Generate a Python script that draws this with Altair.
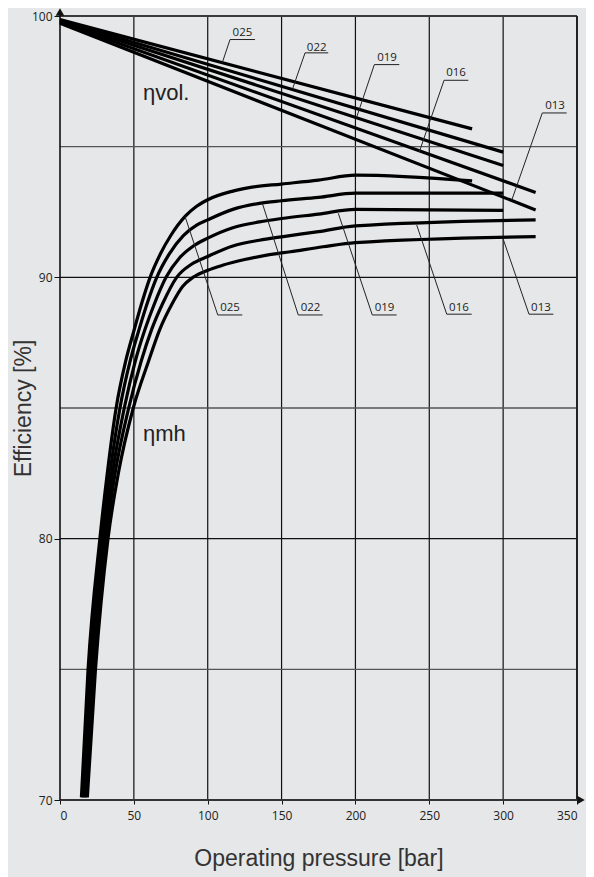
import altair as alt
import pandas as pd

# ---------------- data ----------------
sizes = ["025", "022", "019", "016", "013"]

# volumetric efficiency (straight lines)
vol_p_start = [0, 0, 0, 0, 0]
vol_p_end = [279, 300, 300, 322, 322]
vol_eff_start = [99.86, 99.83, 99.80, 99.76, 99.72]
vol_eff_end = [95.68, 94.79, 94.28, 93.25, 92.58]

# mechanical-hydraulic efficiency curves
mh_p_025 = [14.5, 19, 27, 32, 38, 44.5, 50, 55, 61, 68, 75, 85, 92.5, 100, 117, 130, 150, 175, 200, 279]
mh_e_025 = [70.1, 75, 80, 82.5, 85, 86.8, 87.95, 88.95, 90.0, 90.9, 91.6, 92.35, 92.72, 92.97, 93.3, 93.45, 93.57, 93.72, 93.91, 93.69]
mh_p_022 = [15.5, 20.2, 28.4, 33.8, 40.6, 47.5, 53.5, 59, 65.5, 74, 83.5, 92.5, 100, 117, 135, 150, 175, 200, 300]
mh_e_022 = [70.1, 75, 80, 82.5, 85, 86.8, 88.0, 89.0, 90.0, 90.9, 91.6, 92.0, 92.2, 92.6, 92.83, 92.93, 93.06, 93.22, 93.22]
mh_p_019 = [16.5, 21.4, 29.8, 35.5, 43.5, 51, 57.5, 64, 71.8, 81, 90.3, 100, 117, 135, 150, 175, 200, 300]
mh_e_019 = [70.1, 75, 80, 82.5, 85, 86.8, 88.0, 89.0, 90.0, 90.75, 91.2, 91.5, 91.9, 92.12, 92.25, 92.42, 92.6, 92.56]
mh_p_016 = [17.5, 22.6, 31.1, 37.3, 46.5, 55, 62, 69.5, 79, 89, 100, 117, 135, 150, 175, 200, 322]
mh_e_016 = [70.1, 75, 80, 82.5, 85, 86.8, 88.0, 89.0, 90.0, 90.5, 90.8, 91.2, 91.42, 91.55, 91.75, 91.97, 92.2]
mh_p_013 = [18.5, 24, 32.5, 39.5, 49.6, 60, 67.5, 76, 83, 90, 100, 110, 125, 140, 156, 178, 200, 322]
mh_e_013 = [70.1, 75, 80, 82.5, 85, 86.8, 88.0, 89.0, 89.65, 90.0, 90.27, 90.46, 90.68, 90.85, 90.98, 91.17, 91.33, 91.56]

# callout labels (vol): text centre, underline, leader end on curve
vol_lab_x = [123.5, 173.8, 221.4, 268.1, 335.1]
vol_lab_y = [99.34, 98.79, 98.39, 97.80, 96.55]
vol_ul_x1 = [115.1, 165.9, 212.8, 260.0, 326.5]
vol_ul_x2 = [132.0, 181.6, 229.7, 276.4, 343.0]
vol_ul_y = [99.10, 98.59, 98.14, 97.54, 96.29]
vol_ld_x = [109.9, 157.5, 200.9, 243.2, 305.8]
vol_ld_y = [98.22, 97.22, 96.14, 94.80, 92.95]

# callout labels (mh)
mh_lab_x = [115.1, 169.6, 219.7, 270.1, 325.6]
mh_lab_y = [88.81, 88.81, 88.81, 88.84, 88.84]
mh_ul_x1 = [106.8, 161.3, 211.4, 261.8, 317.5]
mh_ul_x2 = [123.4, 177.8, 227.9, 278.7, 334.0]
mh_ul_y = [88.56, 88.56, 88.56, 88.59, 88.59]
mh_ld_x = [84.6, 137.0, 188.4, 241.5, 300.1]
mh_ld_y = [92.34, 92.83, 92.45, 92.00, 91.45]

group_text = ["ηvol.", "ηmh"]
group_x = [56.2, 56.2]
group_y = [96.78, 83.72]

x_ticks = [0, 50, 100, 150, 200, 250, 300, 350]
y_ticks = [70, 80, 90, 100]
v_grid = [50, 100, 150, 200, 250, 300]
h_grid_dark = [80, 90]
h_grid_grey = [75, 85, 95]

# axis arrow heads (data position)
arrow_up_xy = [0, 100.15]
arrow_right_xy = [352.7, 70]

# ---------------- tables ----------------
vol_rows = []
for i, s in enumerate(sizes):
    vol_rows.append({"s": s, "p": vol_p_start[i], "e": vol_eff_start[i]})
    vol_rows.append({"s": s, "p": vol_p_end[i], "e": vol_eff_end[i]})
vol_df = pd.DataFrame(vol_rows)

mh_rows = []
for s, ps, es in zip(sizes, [mh_p_025, mh_p_022, mh_p_019, mh_p_016, mh_p_013],
                     [mh_e_025, mh_e_022, mh_e_019, mh_e_016, mh_e_013]):
    for p, e in zip(ps, es):
        mh_rows.append({"s": s, "p": p, "e": e})
mh_df = pd.DataFrame(mh_rows)

lab_df = pd.DataFrame({
    "t": sizes + sizes,
    "lx": vol_lab_x + mh_lab_x, "ly": vol_lab_y + mh_lab_y,
    "u1": vol_ul_x1 + mh_ul_x1, "u2": vol_ul_x2 + mh_ul_x2, "uy": vol_ul_y + mh_ul_y,
    "dx": vol_ld_x + mh_ld_x, "dy": vol_ld_y + mh_ld_y,
})
grp_df = pd.DataFrame({"t": group_text, "x": group_x, "y": group_y})
vg_df = pd.DataFrame({"x": v_grid, "y1": [70] * len(v_grid), "y2": [100] * len(v_grid)})
hgd_df = pd.DataFrame({"y": h_grid_dark})
hgg_df = pd.DataFrame({"y": h_grid_grey})

xs = alt.Scale(domain=[0, 350], nice=False, zero=False)
ys = alt.Scale(domain=[70, 100], nice=False, zero=False)
LBL_FONT = "Open Sans"
TTL_FONT = "Liberation Sans"

AXX = alt.Axis(
    values=x_ticks, title="Operating pressure [bar]", grid=False, domain=False,
    tickSize=4, tickColor="#111", labelPadding=6, labelFont=LBL_FONT, labelFontSize=12,
    labelColor="#222", titleFont=TTL_FONT, titleFontSize=23, titleFontWeight="normal",
    titleColor="#333", titleY=58, titleBaseline="middle")
AXY = alt.Axis(
    values=y_ticks, title="Efficiency [%]", grid=False, domain=False,
    tickSize=6, tickColor="#111", labelPadding=2, labelFont=LBL_FONT, labelFontSize=12,
    labelColor="#222", titleFont=TTL_FONT, titleFontSize=23, titleFontWeight="normal",
    titleColor="#333", titleX=-37, titleBaseline="middle", titleAngle=-90)


def X(f):
    return alt.X(f, scale=xs, axis=AXX)


def Y(f):
    return alt.Y(f, scale=ys, axis=AXY)


vgrid = alt.Chart(vg_df).mark_rule(color="#111", strokeWidth=1.2).encode(
    x=X("x:Q"), y=Y("y1:Q"), y2="y2:Q")
hgrid_d = alt.Chart(hgd_df).mark_rule(color="#111", strokeWidth=1.2).encode(y=Y("y:Q"))
hgrid_g = alt.Chart(hgg_df).mark_rule(color="#555", strokeWidth=1.3).encode(y=Y("y:Q"))

# frame: top border, right border, axes lines
frame_df = pd.DataFrame({
    "x1": [0, 350, 0, 0], "x2": [350, 350, 350.5, 0],
    "y1": [100, 70, 70, 70], "y2": [100, 100, 70, 100.1],
    "k": ["top", "right", "xaxis", "yaxis"],
})
frame = alt.Chart(frame_df).mark_rule().encode(
    x=X("x1:Q"), x2="x2:Q", y=Y("y1:Q"), y2="y2:Q",
    color=alt.Color("k:N", scale=alt.Scale(domain=["top", "right", "xaxis", "yaxis"],
                                           range=["#3a3a3a", "#222", "#333", "#111"]), legend=None),
    strokeWidth=alt.StrokeWidth("k:N", scale=alt.Scale(domain=["top", "right", "xaxis", "yaxis"],
                                                       range=[2.2, 1.6, 2.4, 1.3]), legend=None),
)

arrow_up = alt.Chart(pd.DataFrame({"x": [arrow_up_xy[0]], "y": [arrow_up_xy[1]]})).mark_point(
    shape="triangle-up", filled=True, color="#111", fill="#111", size=75, opacity=1).encode(
    x=X("x:Q"), y=Y("y:Q"))
arrow_right = alt.Chart(pd.DataFrame({"x": [arrow_right_xy[0]], "y": [arrow_right_xy[1]]})).mark_point(
    shape="triangle-right", filled=True, color="#111", fill="#111", size=75, opacity=1).encode(
    x=X("x:Q"), y=Y("y:Q"))

vol_lines = alt.Chart(vol_df).mark_line(color="black", strokeWidth=3.2).encode(
    x=X("p:Q"), y=Y("e:Q"), detail="s:N")
mh_lines = alt.Chart(mh_df).mark_line(color="black", strokeWidth=3.2, interpolate="monotone").encode(
    x=X("p:Q"), y=Y("e:Q"), detail="s:N")

leaders = alt.Chart(lab_df).mark_rule(color="#222", strokeWidth=1).encode(
    x=X("u1:Q"), y=Y("uy:Q"), x2="dx:Q", y2="dy:Q")
underl = alt.Chart(lab_df).mark_rule(color="#222", strokeWidth=1).encode(
    x=X("u1:Q"), x2="u2:Q", y=Y("uy:Q"))
labels = alt.Chart(lab_df).mark_text(font=LBL_FONT, fontSize=11.5, color="#222",
                                     align="center", baseline="middle").encode(
    x=X("lx:Q"), y=Y("ly:Q"), text="t:N")

groups = alt.Chart(grp_df).mark_text(font=TTL_FONT, fontSize=22, color="#222",
                                     align="left", baseline="alphabetic").encode(
    x=X("x:Q"), y=Y("y:Q"), text="t:N")

chart = alt.layer(
    vgrid, hgrid_g, hgrid_d, frame, vol_lines, mh_lines, leaders, underl, labels, groups,
    arrow_up, arrow_right
).properties(
    width=517, height=784,
    autosize=alt.AutoSizeParams(type="none"),
    padding={"left": 52, "top": 8, "right": 9, "bottom": 77},
    background="#e6e7e8",
).configure_view(stroke=None)

chart.save("out.html", embed_options={"renderer": "svg", "actions": False})
